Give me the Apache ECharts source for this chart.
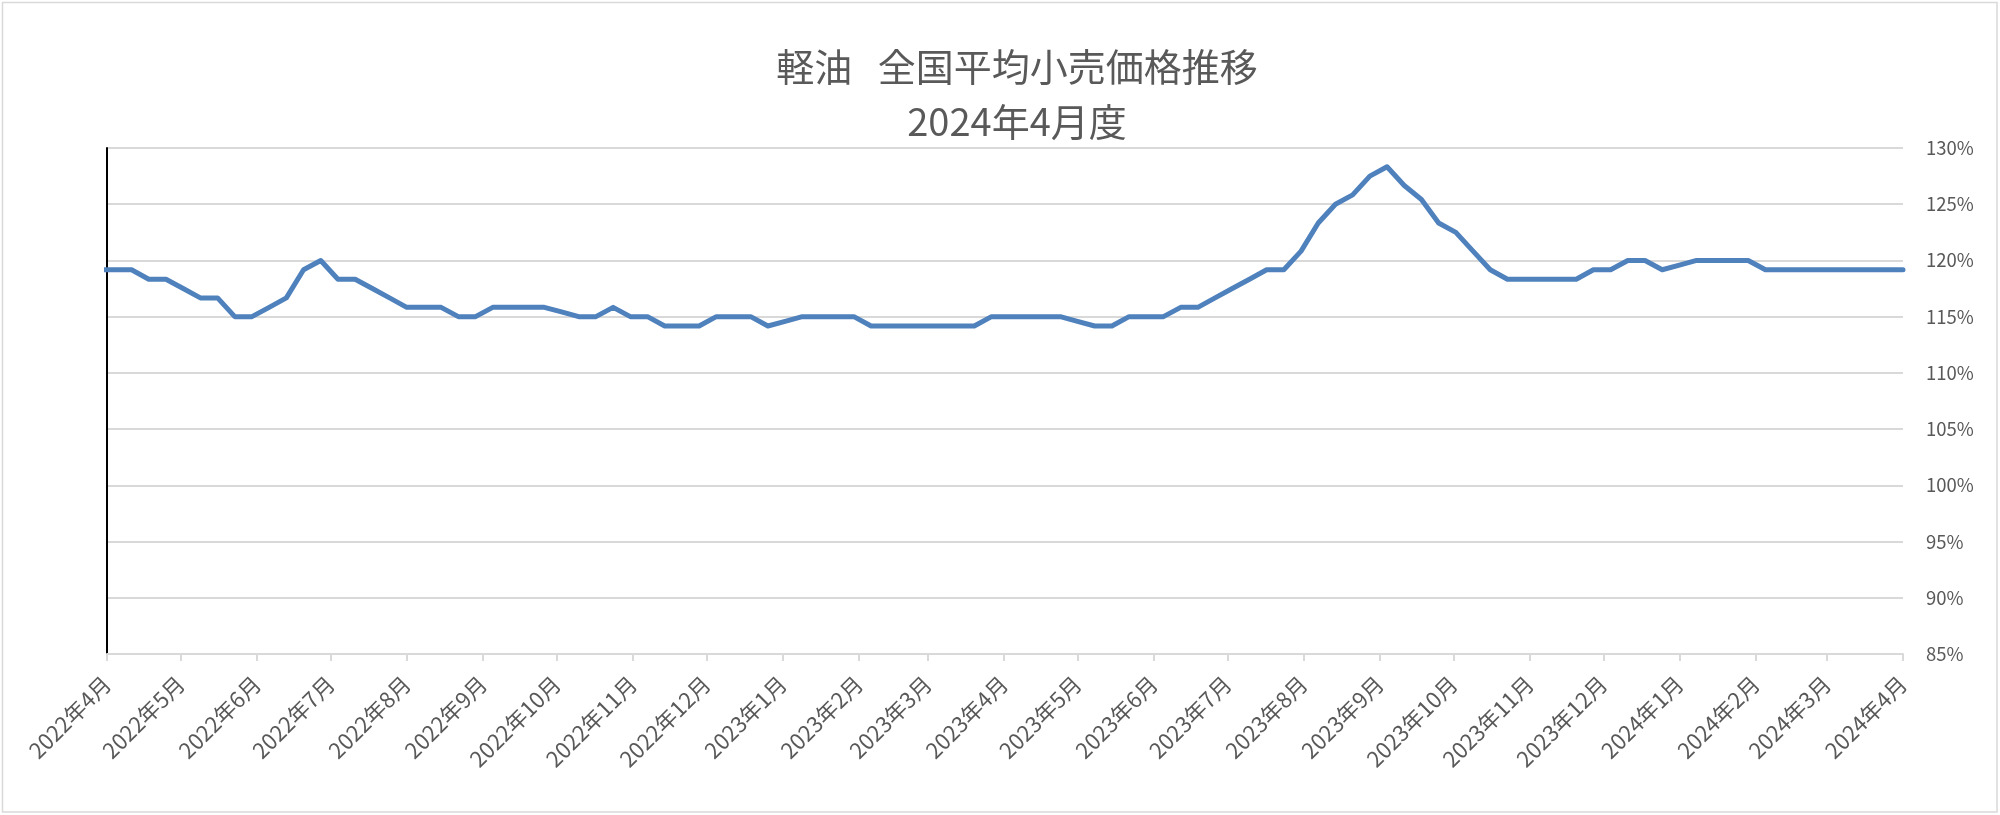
<!DOCTYPE html>
<html>
<head>
<meta charset="utf-8">
<script src="https://cdn.jsdelivr.net/npm/echarts@6/dist/echarts.min.js"></script>
<style>
html,body{margin:0;padding:0;background:#ffffff;}
#chart{width:2000px;height:815px;}
</style>
</head>
<body>
<div id="chart"></div>
<script>
// ---- data ----
const titleLine1 = '軽油   全国平均小売価格推移';
const titleLine2 = '2024年4月度';
// weekly survey dates start (first point lies just before the axis start and is clipped)
const firstWeek = [2022, 2, 28];
const axisStart = [2022, 3, 1];
const axisEnd = [2024, 3, 1];
// weekly values (%), 2022-03-28 ... 2024-04-01
const weeklyValues = [
  119.17,
  119.17, 119.17, 118.33, 118.33, 117.5, 116.67, 116.67, 115.0, 115.0, 115.83,
  116.67, 119.17, 120.0, 118.33, 118.33, 117.5, 116.67, 115.83, 115.83, 115.83,
  115.0, 115.0, 115.83, 115.83, 115.83, 115.83, 115.42, 115.0, 115.0, 115.83,
  115.0, 115.0, 114.17, 114.17, 114.17, 115.0, 115.0, 115.0, 114.17, 114.58,
  115.0, 115.0, 115.0, 115.0, 114.17, 114.17, 114.17, 114.17, 114.17, 114.17,
  114.17, 115.0, 115.0, 115.0, 115.0, 115.0, 114.58, 114.17, 114.17, 115.0,
  115.0, 115.0, 115.83, 115.83, 116.67, 117.5, 118.33, 119.17, 119.17, 120.83,
  123.33, 125.0, 125.83, 127.5, 128.33, 126.67, 125.42, 123.33, 122.5, 120.83,
  119.17, 118.33, 118.33, 118.33, 118.33, 118.33, 119.17, 119.17, 120.0, 120.0,
  119.17, 119.58, 120.0, 120.0, 120.0, 120.0, 119.17, 119.17, 119.17, 119.17,
  119.17, 119.17, 119.17, 119.17, 119.17
];
const yMin = 85, yMax = 130, yStep = 5;

// ---- build ----
const seriesData = weeklyValues.map((v, i) => [
  new Date(firstWeek[0], firstWeek[1], firstWeek[2] + 7 * i).getTime(), v
]);
const DAY = 86400000;
const textColor = '#595959';
const font = '"Noto Sans CJK JP", "Noto Sans", sans-serif';

const chart = echarts.init(document.getElementById('chart'), null, {renderer: 'canvas'});
chart.setOption({
  animation: false,
  backgroundColor: '#ffffff',
  textStyle: {fontFamily: font},
  title: {
    text: titleLine1 + '\n' + titleLine2,
    left: 1012,
    top: 34,
    textAlign: 'center',
    textStyle: {fontSize: 38, fontWeight: 'normal', color: textColor, lineHeight: 55, fontFamily: font}
  },
  graphic: [{
    type: 'rect', silent: true, z: -1,
    shape: {x: 2.5, y: 2.5, width: 1994.5, height: 809.5},
    style: {fill: null, stroke: '#d9d9d9', lineWidth: 1.5}
  }],
  grid: {left: 107, right: 97, top: 148, bottom: 161, containLabel: false, outerBoundsMode: 'none'},
  xAxis: {
    type: 'time',
    min: new Date(axisStart[0], axisStart[1], axisStart[2]).getTime(),
    max: new Date(axisEnd[0], axisEnd[1], axisEnd[2]).getTime(),
    splitNumber: 24,
    minInterval: 28 * DAY,
    maxInterval: 31 * DAY,
    axisLine: {show: true, lineStyle: {color: '#d9d9d9', width: 2}},
    axisTick: {show: true, length: 7, lineStyle: {color: '#d9d9d9', width: 2}},
    minorTick: {show: false},
    splitLine: {show: false},
    axisLabel: {
      rotate: 45,
      margin: 26,
      fontSize: 22,
      color: textColor,
      fontFamily: font,
      hideOverlap: false,
      showMinLabel: true,
      showMaxLabel: true,
      formatter: function (v) {
        const d = new Date(v);
        return d.getFullYear() + '年' + (d.getMonth() + 1) + '月';
      }
    }
  },
  yAxis: [{
    type: 'value',
    position: 'right',
    min: yMin, max: yMax, interval: yStep,
    axisLine: {show: false},
    axisTick: {show: false},
    splitLine: {show: true, lineStyle: {color: '#d9d9d9', width: 2}},
    axisLabel: {formatter: '{value}%', fontSize: 18.5, color: textColor, align: 'left', margin: 23, fontFamily: font}
  }, {
    type: 'value',
    position: 'left',
    min: yMin, max: yMax, interval: yStep,
    axisLine: {show: true, onZero: false, lineStyle: {color: '#000000', width: 2}},
    axisTick: {show: false},
    axisLabel: {show: false},
    splitLine: {show: false}
  }],
  series: [{
    type: 'line',
    yAxisIndex: 0,
    data: seriesData,
    showSymbol: false,
    symbol: 'none',
    clip: true,
    lineStyle: {color: '#4F81BD', width: 5, join: 'round', cap: 'round'},
    itemStyle: {color: '#4F81BD'}
  }]
});
</script>
</body>
</html>
